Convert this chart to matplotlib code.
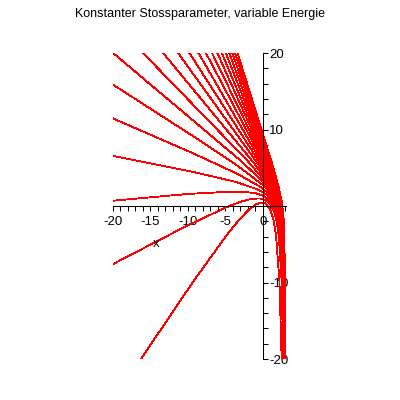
import numpy as np
import matplotlib
matplotlib.use("Agg")
import matplotlib.pyplot as plt
from matplotlib.ticker import MultipleLocator

plt.rcParams['font.family'] = ['Liberation Sans', 'DejaVu Sans']

# trajectories, lowest energy first
X1 = [2.49, 2.19, 1.73, 1.41, 1.00, 0.49, 0.19, -0.15, -0.95, -1.95, -3.21, -4.79, -9.25, -16.28]
Y1 = [-20.01, -9.80, -3.73, -1.83, -0.53, 0.22, 0.40, 0.46, 0.21, -0.53, -1.83, -3.74, -9.80, -20.01]
X2 = [2.70, 2.48, 2.11, 1.83, 1.47, 0.99, 0.37, -0.45, -1.53, -2.94, -4.79, -10.38, -20.01]
Y2 = [-20.01, -9.74, -3.89, -2.04, -0.71, 0.20, 0.75, 0.99, 0.93, 0.57, -0.12, -2.70, -7.60]
X3 = [2.79, 2.62, 2.31, 2.08, 1.76, 1.34, 0.78, 0.02, -0.98, -2.34, -4.15, -9.82, -20.01]
Y3 = [-20.00, -9.70, -3.98, -2.17, -0.83, 0.15, 0.85, 1.34, 1.66, 1.83, 1.88, 1.59, 0.69]
X4 = [2.83, 2.69, 2.43, 2.22, 1.94, 1.56, 1.04, 0.34, -0.62, -3.70, -9.42, -20.00]
Y4 = [-20.00, -9.61, -3.97, -2.19, -0.86, 0.15, 0.94, 1.58, 2.13, 3.17, 4.48, 6.55]
X5 = [2.86, 2.74, 2.51, 2.07, 1.72, 1.23, 0.56, -0.36, -3.38, -9.12, -20.00]
Y5 = [-20.01, -9.50, -3.91, -0.83, 0.20, 1.04, 1.78, 2.51, 4.19, 6.80, 11.45]
X6 = [2.89, 2.78, 2.57, 2.16, 1.83, 1.37, 0.74, -0.15, -3.11, -8.86, -20.01]
Y6 = [-20.01, -9.41, -3.84, -0.79, 0.25, 1.14, 1.97, 2.84, 5.06, 8.84, 15.87]
X7 = [2.90, 2.80, 2.61, 2.23, 1.92, 1.49, 0.87, 0.01, -2.90, -20.00]
Y7 = [-20.01, -9.31, -3.77, -0.74, 0.31, 1.24, 2.15, 3.14, 5.86, 20.01]
X8 = [2.91, 2.83, 2.66, 2.34, 1.71, 0.47, -1.96, -16.01]
Y8 = [-20.01, -9.48, -3.98, -0.94, 1.08, 3.02, 5.79, 20.01]
X9 = [2.92, 2.70, 2.42, 1.87, 0.79, -1.30, -13.32]
Y9 = [-20.00, -4.13, -1.08, 0.96, 2.93, 5.73, 20.01]
X10 = [2.93, 2.73, 2.48, 1.99, 1.04, -0.80, -11.33]
Y10 = [-20.01, -4.24, -1.19, 0.86, 2.85, 5.68, 20.01]
X11 = [2.94, 2.76, 2.53, 2.09, 1.23, -0.42, -9.82]
Y11 = [-20.00, -4.33, -1.28, 0.78, 2.78, 5.63, 20.01]
X12 = [2.94, 2.78, 2.57, 2.17, 1.39, -0.11, -8.61]
Y12 = [-20.01, -4.41, -1.35, 0.71, 2.73, 5.59, 20.01]
X13 = [2.94, 2.79, 2.60, 2.23, 1.52, 0.15, -7.62]
Y13 = [-20.00, -4.46, -1.41, 0.66, 2.68, 5.56, 20.01]
X14 = [2.95, 2.81, 2.63, 2.29, 1.63, 0.36, -6.80]
Y14 = [-20.01, -4.51, -1.47, 0.61, 2.64, 5.53, 20.01]
X15 = [2.95, 2.82, 2.66, 2.34, 1.73, 0.55, -6.09]
Y15 = [-20.00, -4.55, -1.51, 0.57, 2.61, 5.50, 20.00]
X16 = [2.95, 2.83, 2.68, 2.38, 1.81, 0.71, -5.49]
Y16 = [-20.01, -4.60, -1.55, 0.53, 2.57, 5.48, 20.00]
X17 = [2.96, 2.84, 2.70, 2.42, 1.88, 0.85, -4.96]
Y17 = [-20.01, -4.63, -1.58, 0.50, 2.55, 5.46, 20.00]
X18 = [2.96, 2.85, 2.71, 2.45, 1.94, 0.97, -4.50]
Y18 = [-20.00, -4.65, -1.61, 0.48, 2.52, 5.44, 20.01]
X19 = [2.96, 2.86, 2.73, 2.48, 2.00, 1.08, -4.09]
Y19 = [-20.01, -4.68, -1.63, 0.45, 2.50, 5.42, 20.00]
X20 = [2.96, 2.87, 2.74, 2.51, 2.05, 1.18, -3.73]
Y20 = [-20.01, -4.70, -1.66, 0.43, 2.48, 5.41, 20.01]
X21 = [2.97, 2.87, 2.75, 2.53, 2.10, 1.26, -3.40]
Y21 = [-20.01, -4.72, -1.68, 0.41, 2.46, 5.40, 20.01]

XS = [X1, X2, X3, X4, X5, X6, X7, X8, X9, X10, X11,
      X12, X13, X14, X15, X16, X17, X18, X19, X20, X21]
YS = [Y1, Y2, Y3, Y4, Y5, Y6, Y7, Y8, Y9, Y10, Y11,
      Y12, Y13, Y14, Y15, Y16, Y17, Y18, Y19, Y20, Y21]

XTICKS = [-20, -15, -10, -5, 0]
YTICKS = [-20, -10, 0, 10, 20]

fig = plt.figure(figsize=(4, 4), dpi=100)
ax = fig.add_axes([0.2825, 0.1025, 0.4331, 0.765])

for xs, ys in zip(XS, YS):
    ax.plot(xs, ys, color='#ff0000', lw=0.6, antialiased=False)

ax.set_xlim(-20, 3.1)
ax.set_ylim(-20, 20)

# axes through the origin, maple style
ax.spines['left'].set_visible(False)
ax.spines['top'].set_visible(False)
ax.spines['bottom'].set_position(('data', 0))
ax.spines['right'].set_position(('data', 0))
for sp in ('bottom', 'right'):
    ax.spines[sp].set_linewidth(0.75)
ax.yaxis.tick_right()

ax.set_xticks(XTICKS)
ax.set_xticklabels([str(t) for t in XTICKS])
ax.xaxis.set_minor_locator(MultipleLocator(1))
ax.set_yticks(YTICKS)
ax.set_yticklabels([str(t) for t in YTICKS])
ax.yaxis.set_minor_locator(MultipleLocator(2))
ax.tick_params(which='both', direction='out', length=3.5, width=0.75, labelsize=9.5)
ax.tick_params(axis='x', pad=3.5)
ax.tick_params(axis='y', pad=1)

ax.text(-14.3, -5.0, 'x', ha='center', va='center', fontsize=9.5)
fig.text(0.5, 0.965, 'Konstanter Stossparameter, variable Energie',
         ha='center', va='center', fontsize=9)

fig.savefig('out.png', dpi=100)
